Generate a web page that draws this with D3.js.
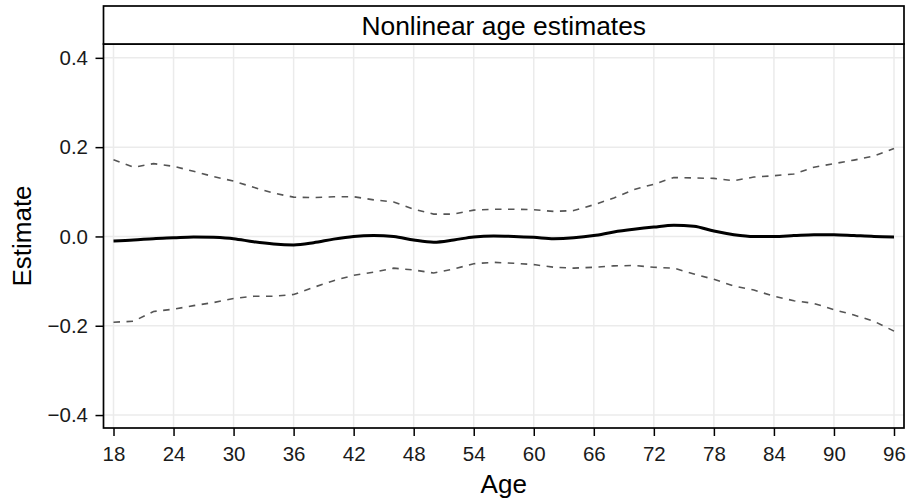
<!DOCTYPE html>
<html>
<head>
<meta charset="utf-8">
<script src="https://cdn.jsdelivr.net/npm/d3@7"></script>
<style>
  body { margin: 0; background: #fff; }
  svg { display: block; font-family: "Liberation Sans", Arial, sans-serif; }
</style>
</head>
<body>
<svg class="chart"></svg>
<script>
const size = {w: 907, h: 503};

// ages on the x axis (every 2 years)
const ages = [18, 20, 22, 24, 26, 28, 30, 32, 34, 36, 38, 40, 42, 44, 46, 48, 50, 52, 54, 56,
              58, 60, 62, 64, 66, 68, 70, 72, 74, 76, 78, 80, 82, 84, 86, 88, 90, 92, 94, 96];
// point estimate
const estimate = [-0.010, -0.008, -0.005, -0.003, -0.001, -0.002, -0.005, -0.012, -0.017, -0.019,
                  -0.014, -0.006, 0.000, 0.002, 0.000, -0.008, -0.013, -0.008, -0.001, 0.001,
                  0.000, -0.002, -0.005, -0.003, 0.002, 0.010, 0.016, 0.021, 0.025, 0.023,
                  0.012, 0.004, 0.000, 0.000, 0.002, 0.004, 0.004, 0.002, 0.000, -0.001];
// upper and lower bounds
const upper = [0.172, 0.155, 0.163, 0.157, 0.146, 0.134, 0.124, 0.110, 0.097, 0.088,
               0.087, 0.089, 0.089, 0.082, 0.077, 0.061, 0.050, 0.050, 0.059, 0.061,
               0.061, 0.060, 0.056, 0.058, 0.071, 0.086, 0.105, 0.117, 0.132, 0.131,
               0.130, 0.125, 0.133, 0.136, 0.140, 0.155, 0.163, 0.171, 0.180, 0.197];
const lower = [-0.192, -0.190, -0.168, -0.163, -0.155, -0.148, -0.139, -0.134, -0.134, -0.130,
               -0.114, -0.099, -0.087, -0.080, -0.071, -0.075, -0.082, -0.073, -0.061, -0.058,
               -0.060, -0.063, -0.069, -0.071, -0.069, -0.066, -0.065, -0.069, -0.071, -0.084,
               -0.096, -0.111, -0.120, -0.134, -0.144, -0.150, -0.164, -0.176, -0.190, -0.212];

const xTicks = [18, 24, 30, 36, 42, 48, 54, 60, 66, 72, 78, 84, 90, 96];
const yTicks = [-0.4, -0.2, 0.0, 0.2, 0.4];
const stripTitle = 'Nonlinear age estimates';
const xTitle = 'Age';
const yTitle = 'Estimate';

// panel box
const panel = {left: 103.5, right: 904, top: 44, bottom: 428, stripTop: 6};

const svg = d3.select('svg.chart')
    .attr('width', size.w)
    .attr('height', size.h);

const xScale = d3.scaleLinear()
    .domain([17, 97])
    .range([panel.left, panel.right]);

const yScale = d3.scaleLinear()
    .domain([-0.429, 0.431])
    .range([panel.bottom, panel.top]);

// grid lines
const grid = svg.append('g').attr('class', 'grid');
grid.selectAll('line.v')
    .data(xTicks)
    .join('line')
    .attr('class', 'v')
    .attr('x1', d => xScale(d)).attr('x2', d => xScale(d))
    .attr('y1', panel.top).attr('y2', panel.bottom)
    .attr('stroke', '#ebebeb')
    .attr('stroke-width', 1.5);
grid.selectAll('line.h')
    .data(yTicks)
    .join('line')
    .attr('class', 'h')
    .attr('x1', panel.left).attr('x2', panel.right)
    .attr('y1', d => yScale(d)).attr('y2', d => yScale(d))
    .attr('stroke', '#ebebeb')
    .attr('stroke-width', 1.5);

// lines
const rows = ages.map((a, i) => ({age: a, est: estimate[i], hi: upper[i], lo: lower[i]}));

const bandLine = key => d3.line()
    .x(d => xScale(d.age))
    .y(d => yScale(d[key]));

['hi', 'lo'].forEach(k => {
    svg.append('path')
        .datum(rows)
        .attr('d', bandLine(k))
        .attr('fill', 'none')
        .attr('stroke', '#555555')
        .attr('stroke-width', 1.6)
        .attr('stroke-dasharray', '6.5,6.5');
});

svg.append('path')
    .datum(rows)
    .attr('d', d3.line().curve(d3.curveMonotoneX)
        .x(d => xScale(d.age))
        .y(d => yScale(d.est)))
    .attr('fill', 'none')
    .attr('stroke', '#000')
    .attr('stroke-width', 3);

// panel border
svg.append('rect')
    .attr('x', panel.left).attr('y', panel.top)
    .attr('width', panel.right - panel.left)
    .attr('height', panel.bottom - panel.top)
    .attr('fill', 'none')
    .attr('stroke', '#000')
    .attr('stroke-width', 1.7);

// strip
svg.append('rect')
    .attr('x', panel.left).attr('y', panel.stripTop)
    .attr('width', panel.right - panel.left)
    .attr('height', panel.top - panel.stripTop)
    .attr('fill', '#fff')
    .attr('stroke', '#000')
    .attr('stroke-width', 1.7);
svg.append('text')
    .attr('x', (panel.left + panel.right) / 2)
    .attr('y', 35)
    .attr('text-anchor', 'middle')
    .attr('font-size', 26.4)
    .attr('fill', '#000')
    .text(stripTitle);

// axes
const xAxis = svg.append('g')
    .attr('transform', `translate(0,${panel.bottom})`)
    .call(d3.axisBottom(xScale).tickValues(xTicks).tickSize(8).tickPadding(10).tickFormat(d3.format('d')));
const yAxis = svg.append('g')
    .attr('transform', `translate(${panel.left},0)`)
    .call(d3.axisLeft(yScale).tickValues(yTicks).tickSize(8).tickPadding(7.5).tickFormat(d3.format('.1f')));

[xAxis, yAxis].forEach(ax => {
    ax.select('.domain').remove();
    ax.selectAll('.tick line').attr('stroke', '#000').attr('stroke-width', 1.5);
    ax.selectAll('.tick text')
        .attr('fill', '#1a1a1a')
        .style('font-size', '20.5px')
        .style('font-family', '"Liberation Sans", Arial, sans-serif');
});

// axis titles
svg.append('text')
    .attr('x', (panel.left + panel.right) / 2)
    .attr('y', 493)
    .attr('text-anchor', 'middle')
    .attr('font-size', 26)
    .attr('fill', '#000')
    .text(xTitle);

svg.append('text')
    .attr('transform', `translate(31,${(panel.top + panel.bottom) / 2}) rotate(-90)`)
    .attr('text-anchor', 'middle')
    .attr('font-size', 26)
    .attr('fill', '#000')
    .text(yTitle);
</script>
</body>
</html>
